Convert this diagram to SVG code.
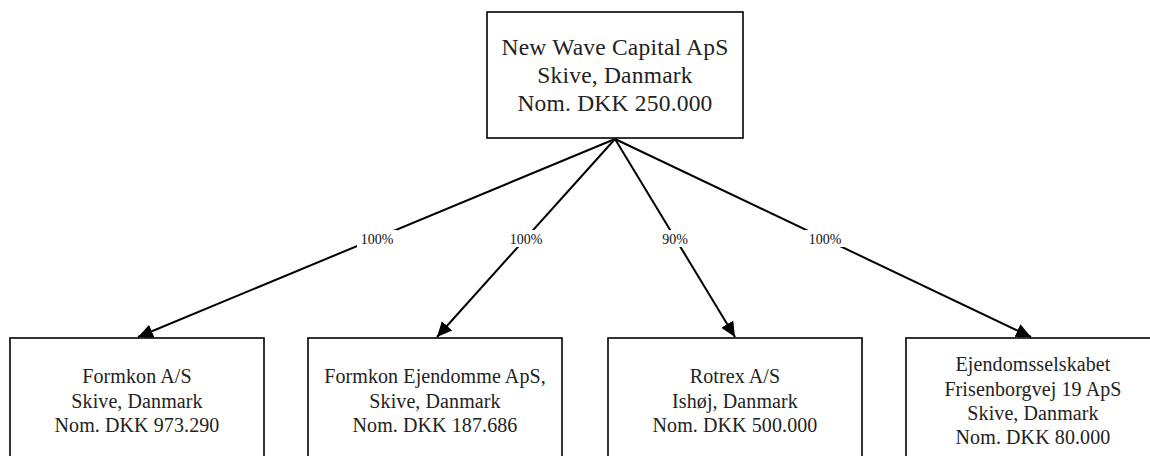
<svg xmlns="http://www.w3.org/2000/svg" width="1150" height="456" viewBox="0 0 1150 456">
<style>
.box{fill:#fff;stroke:#000;stroke-width:1.6}
.t{font-family:"Liberation Serif",serif;fill:#222;text-anchor:middle}
.top{font-size:23.5px;letter-spacing:0.2px}
.sub{font-size:20px;letter-spacing:0.1px}
.edge{stroke:#000;stroke-width:2;fill:none}
.lblbg{fill:#fff}
.lbl{font-family:"Liberation Serif",serif;font-size:14px;fill:#111;text-anchor:middle}
</style>
<defs>
<marker id="arr" markerUnits="userSpaceOnUse" markerWidth="16" markerHeight="16" viewBox="0 0 16 16" refX="15" refY="8" orient="auto">
<path d="M0,1 L15,8 L0,15 z" fill="#000"/>
</marker>
</defs>
<rect width="1150" height="456" fill="#fff"/>
<g id="connectors">
<line class="edge" x1="615" y1="139" x2="138" y2="337" marker-end="url(#arr)"/>
<line class="edge" x1="615" y1="139" x2="437" y2="337" marker-end="url(#arr)"/>
<line class="edge" x1="615" y1="139" x2="735" y2="337" marker-end="url(#arr)"/>
<line class="edge" x1="615" y1="139" x2="1031" y2="337" marker-end="url(#arr)"/>
<rect class="lblbg" x="357" y="230" width="40" height="17"/>
<text class="lbl" x="377" y="244">100%</text>
<rect class="lblbg" x="506" y="230" width="40" height="17"/>
<text class="lbl" x="526" y="244">100%</text>
<rect class="lblbg" x="659" y="230" width="32" height="17"/>
<text class="lbl" x="675" y="244">90%</text>
<rect class="lblbg" x="805" y="230" width="40" height="17"/>
<text class="lbl" x="825" y="244">100%</text>
</g>
<g id="parent">
<rect class="box" x="487" y="12" width="256" height="126"/>
<text class="t top" x="615" y="55">New Wave Capital ApS</text>
<text class="t top" x="615" y="83">Skive, Danmark</text>
<text class="t top" x="615" y="111">Nom. DKK 250.000</text>
</g>
<g id="formkon">
<rect class="box" x="10" y="338" width="254" height="130"/>
<text class="t sub" x="137" y="383">Formkon A/S</text>
<text class="t sub" x="137" y="408">Skive, Danmark</text>
<text class="t sub" x="137" y="432">Nom. DKK 973.290</text>
</g>
<g id="formkon-ejendomme">
<rect class="box" x="308" y="338" width="254" height="130"/>
<text class="t sub" x="435" y="383">Formkon Ejendomme ApS,</text>
<text class="t sub" x="435" y="408">Skive, Danmark</text>
<text class="t sub" x="435" y="432">Nom. DKK 187.686</text>
</g>
<g id="rotrex">
<rect class="box" x="608" y="338" width="254" height="130"/>
<text class="t sub" x="735" y="383">Rotrex A/S</text>
<text class="t sub" x="735" y="408">Ishøj, Danmark</text>
<text class="t sub" x="735" y="432">Nom. DKK 500.000</text>
</g>
<g id="frisenborgvej">
<rect class="box" x="906" y="338" width="254" height="130"/>
<text class="t sub" x="1033" y="371">Ejendomsselskabet</text>
<text class="t sub" x="1033" y="396">Frisenborgvej 19 ApS</text>
<text class="t sub" x="1033" y="420">Skive, Danmark</text>
<text class="t sub" x="1033" y="444">Nom. DKK 80.000</text>
</g>
</svg>
